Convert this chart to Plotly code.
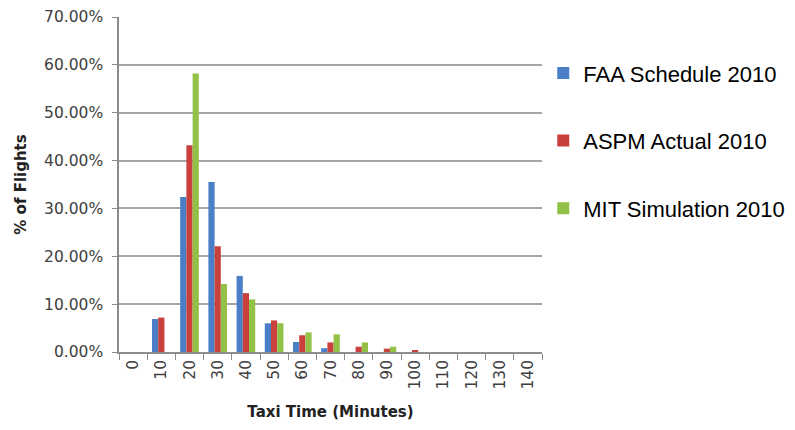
import plotly.graph_objects as go

# Taxi time bins (minutes) and share of flights per bin (%)
taxi_minutes = ["0", "10", "20", "30", "40", "50", "60", "70",
                "80", "90", "100", "110", "120", "130", "140"]
faa_schedule = [0, 6.9, 32.4, 35.5, 15.9, 6.0, 2.1, 0.8, 0, 0, 0, 0, 0, 0, 0]
aspm_actual = [0, 7.2, 43.2, 22.1, 12.3, 6.6, 3.5, 2.0, 1.1, 0.7, 0.4, 0, 0, 0, 0]
mit_simulation = [0, 0, 58.2, 14.2, 11.0, 6.0, 4.1, 3.7, 2.0, 1.1, 0, 0, 0, 0, 0]
y_ticks = [0, 10, 20, 30, 40, 50, 60, 70]

series = [
    ("FAA Schedule 2010", faa_schedule, "#4a7fc8"),
    ("ASPM Actual 2010", aspm_actual, "#c9403d"),
    ("MIT Simulation 2010", mit_simulation, "#93c047"),
]

fig = go.Figure()
for i, (name, vals, color) in enumerate(series):
    fig.add_trace(go.Bar(
        x=taxi_minutes, y=vals, name=name,
        marker=dict(color=color, line=dict(width=0)),
        legendgroup=f"g{i}",
    ))

axis_font = dict(family="DejaVu Sans, sans-serif", size=15.5, color="#404040")
title_font = dict(family="DejaVu Sans, sans-serif", size=15, color="#222222")
axis_col = "#8c8c8c"
grid_col = "#a6a6a6"

fig.update_layout(
    width=795, height=430,
    margin=dict(l=119, r=253, t=17, b=78, autoexpand=False),
    paper_bgcolor="white", plot_bgcolor="white",
    barmode="group", bargap=0.34, bargroupgap=0,
    showlegend=True,
    legend=dict(
        x=1.003, y=0.895, xanchor="left", yanchor="top",
        font=dict(family="Liberation Sans, Arial, sans-serif", size=22, color="#000000"),
        traceorder="grouped", tracegroupgap=36,
    ),
    xaxis=dict(
        type="category",
        tickangle=-90,
        tickfont=axis_font,
        ticks="outside", ticklen=6, tickcolor=axis_col, tickson="boundaries",
        showline=True, linecolor=axis_col, linewidth=1.5,
        showgrid=False,
        title=dict(text="<b>Taxi Time (Minutes)</b>", font=title_font, standoff=18),
    ),
    yaxis=dict(
        range=[0, 70],
        tickvals=y_ticks,
        ticktext=[f"{v:.2f}%" for v in y_ticks],
        tickfont=axis_font,
        ticks="outside", ticklen=5, tickcolor=axis_col,
        ticklabelstandoff=6,
        showline=True, linecolor=axis_col, linewidth=1.5,
        showgrid=True, gridcolor=grid_col, gridwidth=1.5,
        zeroline=False,
        title=dict(text="<b>% of Flights</b>", font=title_font, standoff=14),
    ),
)

fig.write_html("out.html")
